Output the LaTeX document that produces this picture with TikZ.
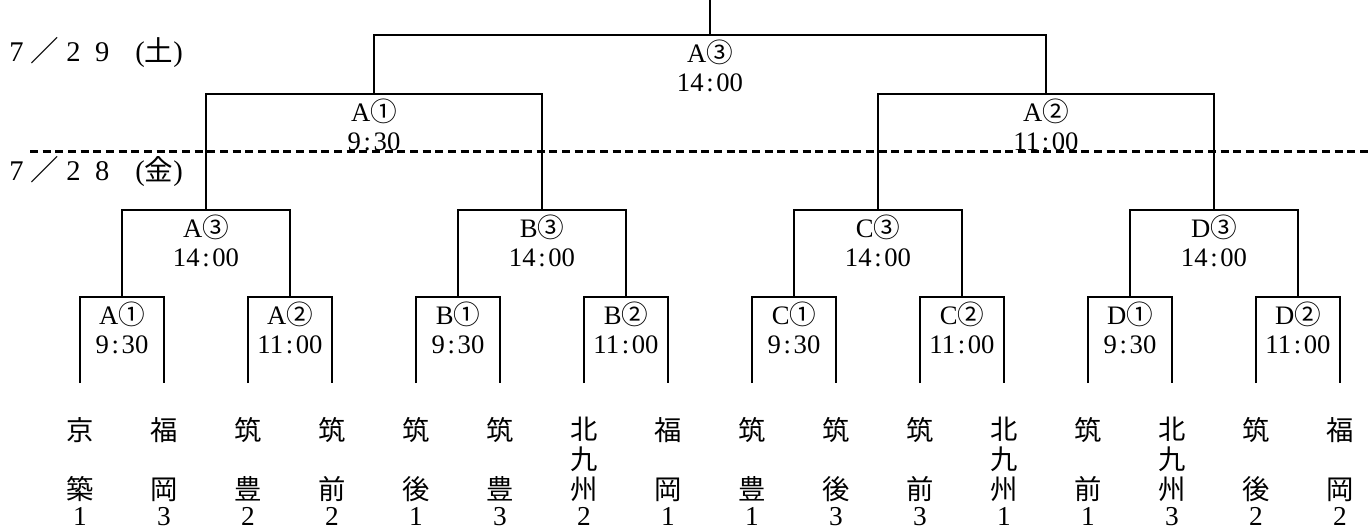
\documentclass[tikz,border=0pt]{standalone}
\usepackage{fontspec}
\setmainfont{Liberation Serif}
\newfontfamily\cjk{Noto Sans CJK JP}
\newcommand{\gamefont}{\fontsize{20pt}{21.4pt}\selectfont}
\newcommand{\teamfont}{\fontsize{20.5pt}{22.3pt}\selectfont}
\newcommand{\datefont}{\fontsize{21.4pt}{24pt}\selectfont}
\newcommand{\cn}[1]{{\cjk #1}}
\newcommand{\tm}[2]{#1\kern0.1em:\kern0.1em#2}
\newcommand{\zw}[2][c]{\makebox[1em][#1]{#2}}

\begin{document}
\begin{tikzpicture}[x=0.75pt,y=-0.75pt,
  bracket/.style={line width=1.5pt},
  daysplit/.style={line width=2.25pt,dash pattern=on 6pt off 3.5pt},
  game/.style={below=3.5pt,inner sep=0pt,align=center,font=\gamefont},
  team/.style={anchor=north,inner sep=0pt,align=center,font=\teamfont}]
\useasboundingbox (0,0) rectangle (1369,531);

% leaves and match points
\foreach \i in {1,...,16}
  \coordinate (t\i) at ({80+84*(\i-1)},383);
\foreach \i in {1,...,8}
  \coordinate (r\i) at ({122+168*(\i-1)},297);
\foreach \i in {1,...,4}
  \coordinate (s\i) at ({206+336*(\i-1)},210);
\coordinate (h1) at (374,94);
\coordinate (h2) at (1046,94);
\coordinate (f) at (710,35);
\coordinate (top) at (710,0);

% brackets
\foreach \i [evaluate=\i as \lft using int(2*\i-1),
             evaluate=\i as \rgt using int(2*\i)] in {1,...,8}
  \draw [bracket] (t\lft) |- (r\i) -| (t\rgt);
\foreach \i [evaluate=\i as \lft using int(2*\i-1),
             evaluate=\i as \rgt using int(2*\i)] in {1,...,4}
  \draw [bracket] (r\lft) |- (s\i) -| (r\rgt);
\draw [bracket] (s1) |- (h1) -| (s2);
\draw [bracket] (s3) |- (h2) -| (s4);
\draw [bracket] (h1) |- (f) -| (h2);
\draw [bracket] (f) -- (top);

% day boundary
\draw [daysplit] (30,152) -- (1369,152);
\node (sat) [anchor=west,inner sep=0pt,font=\datefont] at (2,52)
  {\zw{7}\zw{\cjk ／}\zw{2}\zw{9}\zw[r]{(}\zw{\cjk 土}\zw[l]{)}};
\node (fri) [anchor=west,inner sep=0pt,font=\datefont] at (2,171)
  {\zw{7}\zw{\cjk ／}\zw{2}\zw{8}\zw[r]{(}\zw{\cjk 金}\zw[l]{)}};

% match labels
\foreach \i/\p/\c/\hh/\mm in {1/A/①/9/30,2/A/②/11/00,3/B/①/9/30,4/B/②/11/00,
    5/C/①/9/30,6/C/②/11/00,7/D/①/9/30,8/D/②/11/00}
  \node (g-r\i) [game] at (r\i) {\p\cn{\c}\\\tm{\hh}{\mm}};
\foreach \i/\p in {1/A,2/B,3/C,4/D}
  \node (g-s\i) [game] at (s\i) {\p\cn{③}\\\tm{14}{00}};
\node (g-h1) [game] at (h1) {A\cn{①}\\\tm{9}{30}};
\node (g-h2) [game] at (h2) {A\cn{②}\\\tm{11}{00}};
\node (g-f) [game] at (f) {A\cn{③}\\\tm{14}{00}};

% teams
\foreach \a/\b/\c/\n [count=\i] in {京//築/1,福//岡/3,筑//豊/2,筑//前/2,
    筑//後/1,筑//豊/3,北/九/州/2,福//岡/1,筑//豊/1,筑//後/3,筑//前/3,
    北/九/州/1,筑//前/1,北/九/州/3,筑//後/2,福//岡/2}
  \node (n\i) [team] at ([yshift=-25.5pt]t\i)
    {\mbox{\cjk\a}\\\mbox{\cjk\b}\\\mbox{\cjk\c}\\[-2.8pt]\mbox{\n}};

\end{tikzpicture}
\end{document}
